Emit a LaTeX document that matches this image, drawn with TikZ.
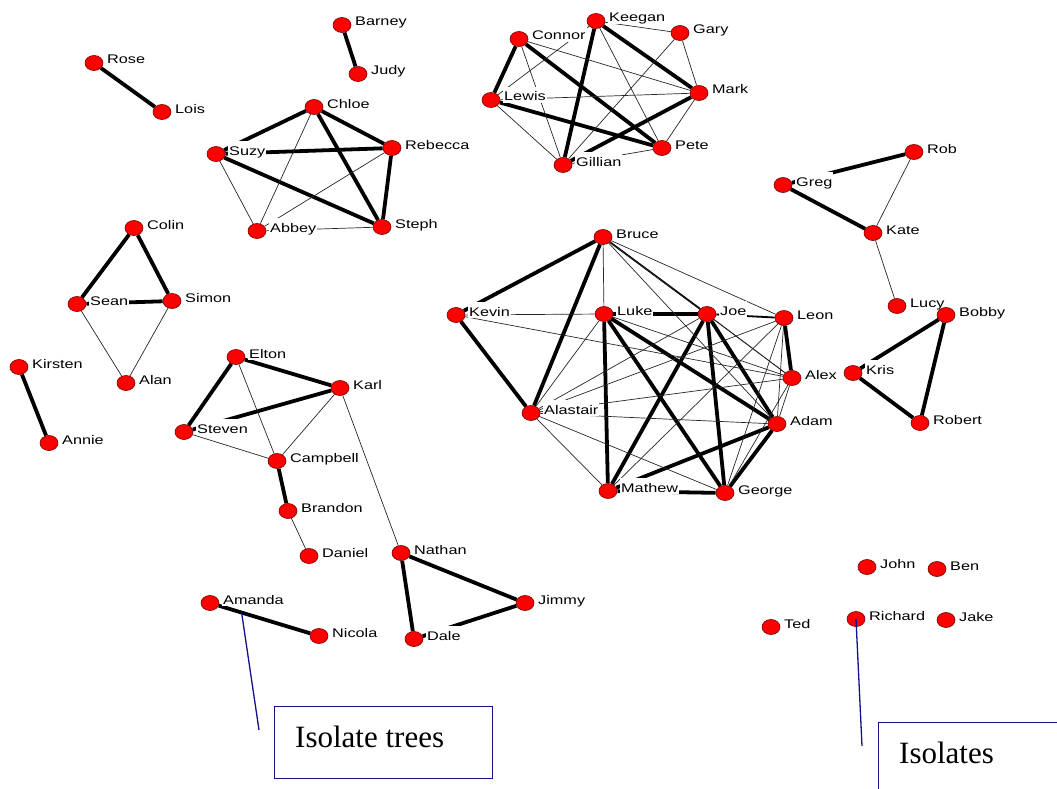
\documentclass[tikz,border=0pt]{standalone}
\usepackage{fontspec}
\setmainfont{Liberation Serif}
\newfontfamily\lblfont[FakeStretch=1.3]{Liberation Sans}
\usetikzlibrary{shapes.geometric,calc}
\pgfdeclarelayer{edges}
\pgfdeclarelayer{labels}
\pgfsetlayers{edges,labels,main}
\definecolor{navyline}{HTML}{12128C}

\tikzset{
  vtx/.style={ellipse, minimum width=18bp, minimum height=15bp, inner sep=0pt,
    fill=red, draw=red!45!black, line width=0.6bp},
  lbl/.style={fill=white, inner xsep=1bp, inner ysep=2bp, text height=12bp,
    text depth=0bp, anchor=base west,
    font=\lblfont\fontsize{12.5bp}{15bp}\selectfont},
  weak tie/.style={draw=black!85, line width=0.7bp},
  mid tie/.style={draw=black, line width=1.8bp},
  strong tie/.style={draw=black, line width=3.8bp},
  callout/.style={draw=navyline, line width=1.3bp},
  callbox/.style={draw=navyline, line width=1.2bp, inner sep=0pt, anchor=north west},
  calltext/.style={anchor=base west, inner sep=0pt,
    font=\fontsize{31bp}{36bp}\selectfont}
}

% a person: red disc plus a name tag that masks the ties behind it
\newcommand\member[3]{%
  \node[vtx] (#1) at (#2) {};
  \begin{pgfonlayer}{labels}
    \node[lbl] (#1-t) at ([xshift=12bp,yshift=-1bp]#1.center) {#3};
  \end{pgfonlayer}}

\begin{document}
\begin{tikzpicture}[x=1bp,y=-1bp]
\useasboundingbox (0,0) rectangle (1057,789);
\clip (0,0) rectangle (1057,789);

% ---------- people ----------
\member{barney}{342,25}{Barney}
\member{judy}{358,74}{Judy}
\member{rose}{94,63}{Rose}
\member{lois}{162,112}{Lois}

\member{chloe}{314,107}{Chloe}
\member{suzy}{216,154}{Suzy}
\member{rebecca}{392,148}{Rebecca}
\member{abbey}{257,231}{Abbey}
\member{steph}{382,227}{Steph}

\member{colin}{134,228}{Colin}
\member{sean}{77,304}{Sean}
\member{simon}{172,301}{Simon}
\member{alan}{126,383}{Alan}

\member{kirsten}{19,367}{Kirsten}
\member{annie}{49,443}{Annie}

\member{elton}{236,357}{Elton}
\member{karl}{340,388}{Karl}
\member{steven}{184,432}{Steven}
\member{campbell}{277,461}{Campbell}
\member{brandon}{288,511}{Brandon}
\member{daniel}{309,556}{Daniel}

\member{nathan}{401,553}{Nathan}
\member{jimmy}{525,603}{Jimmy}
\member{dale}{414,639}{Dale}

\member{amanda}{210,603}{Amanda}
\member{nicola}{319,636}{Nicola}

\member{connor}{519,39}{Connor}
\member{keegan}{596,21}{Keegan}
\member{gary}{680,33}{Gary}
\member{lewis}{491,100}{Lewis}
\member{mark}{699,93}{Mark}
\member{pete}{662,148}{Pete}
\member{gillian}{563,165}{Gillian}

\member{greg}{783,185}{Greg}
\member{rob}{914,152}{Rob}
\member{kate}{873,233}{Kate}
\member{lucy}{897,306}{Lucy}

\member{bobby}{946,315}{Bobby}
\member{kris}{853,373}{Kris}
\member{robert}{920,423}{Robert}

\member{bruce}{603,237}{Bruce}
\member{kevin}{456,315}{Kevin}
\member{luke}{604,314}{Luke}
\member{joe}{707,314}{Joe}
\member{leon}{784,318}{Leon}
\member{alex}{792,378}{Alex}
\member{alastair}{531,413}{Alastair}
\member{adam}{777,424}{Adam}
\member{mathew}{608,491}{Mathew}
\member{george}{725,493}{George}

\member{john}{867,567}{John}
\member{ben}{937,569}{Ben}
\member{ted}{771,627}{Ted}
\member{richard}{856,619}{Richard}
\member{jake}{946,620}{Jake}

% ---------- ties ----------
\begin{pgfonlayer}{edges}
\foreach \a/\b in {barney/judy, rose/lois, kirsten/annie,
    chloe/suzy, chloe/rebecca, chloe/steph, suzy/rebecca, suzy/steph, rebecca/steph,
    colin/sean, colin/simon, sean/simon,
    elton/karl, elton/steven, karl/steven, campbell/brandon,
    nathan/dale, nathan/jimmy, jimmy/dale, amanda/nicola,
    connor/lewis, connor/pete, keegan/gillian, keegan/mark, lewis/pete, mark/gillian,
    greg/rob, greg/kate, bobby/kris, bobby/robert, kris/robert,
    bruce/kevin, bruce/alastair, kevin/alastair, luke/joe, leon/alex,
    luke/mathew, luke/george, luke/adam, joe/mathew, joe/george, joe/adam,
    adam/mathew, adam/george, mathew/george}
  \draw[strong tie] (\a) -- (\b);
\foreach \a/\b in {bruce/joe, joe/leon}
  \draw[mid tie] (\a) -- (\b);
\foreach \a/\b in {chloe/abbey, suzy/abbey, rebecca/abbey, abbey/steph,
    sean/alan, simon/alan,
    elton/campbell, karl/campbell, steven/campbell, brandon/daniel, karl/nathan,
    keegan/lewis, keegan/gary, keegan/pete, connor/mark, connor/gillian,
    gary/mark, gary/gillian, lewis/mark, lewis/gillian, mark/pete, gillian/pete,
    rob/kate, kate/lucy,
    bruce/luke, bruce/leon, bruce/alex, bruce/adam, kevin/luke, kevin/alex,
    luke/alastair, luke/alex, joe/alastair, joe/alex,
    leon/alastair, leon/mathew, leon/george, leon/adam,
    alex/alastair, alex/adam, alex/george,
    alastair/adam, alastair/mathew, alastair/george}
  \draw[weak tie] (\a) -- (\b);
\end{pgfonlayer}

% ---------- annotations ----------
\coordinate (treept) at ($(amanda)!0.29!(nicola)$);
\coordinate (treeend) at (259,730);
\draw[callout] (treept) -- (treeend);
\node[callbox, minimum width=218bp, minimum height=72bp] (treebox) at (274,706) {};
\node[calltext] (treetext) at (295,747) {Isolate trees};

\coordinate (isoend) at (862,746);
\draw[callout] (richard.center) -- (isoend);
\node[callbox, minimum width=220bp, minimum height=100bp] (isobox) at (878,722) {};
\node[calltext] (isotext) at (899,763) {Isolates};
\end{tikzpicture}
\end{document}
